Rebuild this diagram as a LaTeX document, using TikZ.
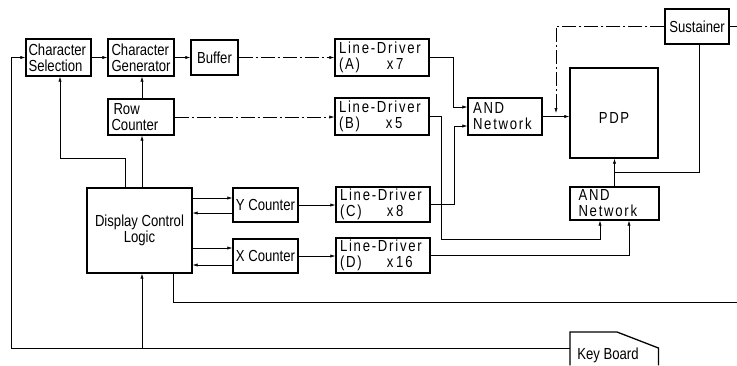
\documentclass[tikz,border=0pt]{standalone}
\usepackage{fontspec}
\setmainfont{Liberation Sans}[FakeStretch=0.82]
\newfontfamily\lsfont{Liberation Sans}[FakeStretch=0.82,LetterSpace=11]
\usetikzlibrary{arrows.meta}
\tikzset{
  blk/.style={draw, line width=1.3pt, inner sep=0pt, font=\fontsize{16}{16}\selectfont},
  blkl/.style={blk, align=left},
  lsf/.style={font=\lsfont\fontsize{16}{16}\selectfont},
  ln/.style={line width=0.6pt},
  ar/.style={-{Latex[length=5pt,width=3.2pt]}},
  dd/.style={dash pattern=on 14pt off 3pt on 2pt off 3pt},
}
\begin{document}
\begin{tikzpicture}[x=1pt,y=-1pt]
\useasboundingbox (0,0) rectangle (737,365);
% boxes
\node[blkl, minimum width=65pt, minimum height=37pt, text width=60pt] (cs) at (58.5,57.5) {Character\\Selection};
\node[blkl, minimum width=66pt, minimum height=37pt, text width=59pt] (cg) at (141,57.5) {Character\\Generator};
\node[blk, minimum width=47pt, minimum height=35pt] (buf) at (214.5,57.5) {Buffer};
\node[blkl, minimum width=66pt, minimum height=36pt, text width=59pt] (rc) at (141,117) {\hspace*{2pt}Row\\Counter};
\node[blk, align=center, minimum width=105pt, minimum height=85pt] (dcl) at (139.5,230.5) {Display Control\\Logic};
\node[blk, minimum width=65pt, minimum height=34pt] (yc) at (265.5,205) {Y Counter};
\node[blk, minimum width=65pt, minimum height=34pt] (xc) at (265.5,256) {X Counter};
\node[blkl, lsf, minimum width=94pt, minimum height=37pt, text width=86pt] (lda) at (382,57.5) {Line-Driver\\\makebox[48pt][l]{(A)}x\,7};
\node[blkl, lsf, minimum width=94pt, minimum height=37pt, text width=86pt] (ldb) at (382,116.5) {Line-Driver\\\makebox[47pt][l]{(B)}x\,5};
\node[blkl, lsf, minimum width=94pt, minimum height=35pt, text width=86pt] (ldc) at (383,204.5) {Line-Driver\\\makebox[47pt][l]{(C)}x\,8};
\node[blkl, lsf, minimum width=94pt, minimum height=35pt, text width=86pt] (ldd) at (383,255.5) {Line-Driver\\\makebox[47pt][l]{(D)}x\,16};
\node[blkl, lsf, minimum width=74pt, minimum height=37pt, text width=64pt] (and1) at (505,116.5) {AND\\Network};
\node[blk, minimum width=88pt, minimum height=90pt] (pdp) at (614,113) {};
\node[lsf, inner sep=0pt] (pdpt) at (614,118) {PDP};
\node[blkl, lsf, minimum width=89pt, minimum height=33pt, text width=72pt] (and2) at (614.5,203.5) {AND\\Network};
\node[blk, minimum width=64pt, minimum height=35pt] (sus) at (697,26.5) {Sustainer};
% keyboard
\node[inner sep=0pt, minimum width=88pt, minimum height=33pt, anchor=north west] (kb) at (570,332) {};
\node[font=\fontsize{16}{16}\selectfont, inner sep=0pt] (kbt) at (608,355) {Key Board};
\draw[line width=1.3pt] (kb.south west) -- (kb.north west) -- ++(47,0) -- ([yshift=-16pt]kb.north east) -- (kb.south east);
% coordinates
\coordinate (j1) at (60,158);
\coordinate (jb) at (441,239);
\coordinate (sj) at (556,113);
\coordinate (pj) at (614.5,172);
\coordinate (se) at (737,26.5);
\coordinate (re) at (737,302);
% connectors
\draw[ln,ar] (kb.west) -| ([xshift=-14pt]cs.west) -- (cs.west);
\draw[ln,ar] ([xshift=2.5pt]dcl.south |- kb.west) -- ([xshift=2.5pt]dcl.south);
\draw[ln,ar] (cs) -- (cg);
\draw[ln,ar] (cg) -- (buf);
\draw[ln,dd,ar] (buf) -- (lda);
\draw[ln,ar] ([xshift=-14.5pt]dcl.north) |- (j1) -- ([xshift=1.5pt]cs.south);
\draw[ln,ar] ([xshift=1pt]rc.north) -- ([xshift=1pt]cg.south);
\draw[ln,ar] ([xshift=2.5pt]dcl.north) -- ([xshift=1pt]rc.south);
\draw[ln,dd,ar] (rc.east) -- (rc.east -| ldb.west);
\draw[ln,ar] ([yshift=7pt]yc.west -| dcl.east) -- ([yshift=7pt]yc.west);
\draw[ln,ar] ([yshift=-8pt]yc.west) -- ([yshift=-8pt]yc.west -| dcl.east);
\draw[ln,ar] ([yshift=8pt]xc.west -| dcl.east) -- ([yshift=8pt]xc.west);
\draw[ln,ar] ([yshift=-9pt]xc.west) -- ([yshift=-9pt]xc.west -| dcl.east);
\draw[ln,ar] (yc.east) -- (yc.east -| ldc.west);
\draw[ln,ar] (xc.east) -- (xc.east -| ldd.west);
\draw[ln,ar] (lda.east) -| ([xshift=-14pt,yshift=9.5pt]and1.west) -- ([yshift=9.5pt]and1.west);
\draw[ln,ar] (ldc.east) -| ([xshift=-13pt,yshift=-9.5pt]and1.west) -- ([yshift=-9.5pt]and1.west);
\draw[ln,ar] (ldb.east) -| (jb) -| ([xshift=-14.5pt]and2.south);
\draw[ln,ar] (ldd.east) -| ([xshift=14.5pt]and2.south);
\draw[ln,ar] (and1.east) -- (and1.east -| pdp.west);
\draw[ln,dd,ar] (sus.west) -| (sj);
\draw[ln,ar] (and2.north) -- (and2.north |- pdp.south);
\draw[ln] ([xshift=2pt]sus.south) |- (pj);
\draw[ln] (sus.east) -- (se);
\draw[ln] ([xshift=33.5pt]dcl.south) |- (re);
\end{tikzpicture}
\end{document}
